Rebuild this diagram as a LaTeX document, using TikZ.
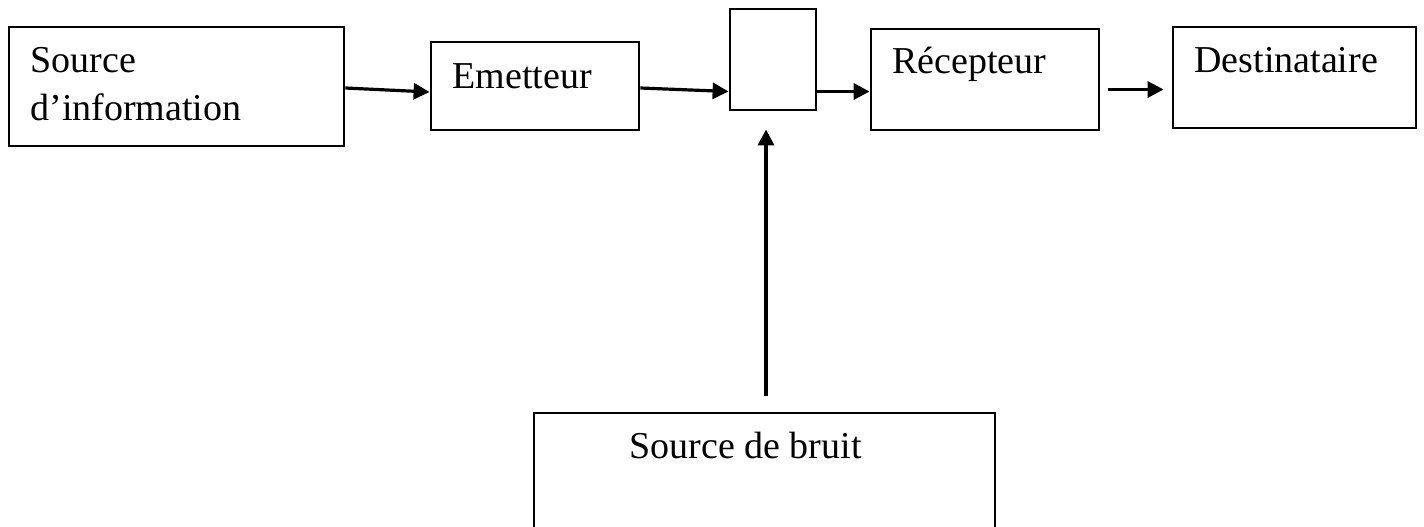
\documentclass[tikz,border=0pt]{standalone}
\usepackage{fontspec}
\setmainfont{Liberation Serif}
\usetikzlibrary{arrows.meta}

\tikzset{
  box/.style={draw, line width=1.4pt, inner sep=0pt},
  lbl/.style={anchor=base west, inner sep=0pt, align=left,
    font=\fontsize{19}{24}\selectfont},
  arr/.style={line width=1.6pt, -{Triangle[length=8pt,width=8pt]}}
}

\begin{document}
\begin{tikzpicture}[x=0.5pt,y=-0.5pt]
\useasboundingbox (0,0) rectangle (1424,526);
\clip (0,0) rectangle (1424,526);
% boxes
\node[box, minimum width=167.5pt, minimum height=59.5pt] (src) at (176.5,86.5) {};
\node[box, minimum width=104pt, minimum height=44pt] (emi) at (535,86) {};
\node[box, minimum width=43pt, minimum height=50.5pt] (chan) at (773,59.5) {};
\node[box, minimum width=114pt, minimum height=50.5pt] (rec) at (985,79.5) {};
\node[box, minimum width=121.5pt, minimum height=50.5pt] (dest) at (1294.5,77.5) {};
\node[box, minimum width=230.5pt, minimum height=73.5pt] (noise) at (764.5,486.5) {};
% texts (base = last line)
\node[lbl] (t-src) at (30,120) {Source\\d’information};
\node[lbl] (t-emi) at (452,88) {Emetteur};
\node[lbl] (t-rec) at (892,73) {Récepteur};
\node[lbl] (t-dest) at (1194,72) {Destinataire};
\node[lbl] (t-noise) at (629,458) {Source de bruit};
% links
\draw[arr] ([yshift=-0.75pt]src.east) -- ([yshift=-3pt]emi.west);
\draw[arr] ([yshift=-1pt]emi.east) -- ([yshift=-16pt]chan.west);
\draw[arr] ([yshift=-16pt]chan.east) -- ([yshift=-6pt]rec.west);
\draw[arr] ([shift={(4pt,-5pt)}]rec.east) -- ([shift={(-4pt,-6pt)}]dest.west);
\draw[arr] ([shift={(0.75pt,8pt)}]noise.north) -- ([shift={(-3.5pt,-9pt)}]chan.south);
\end{tikzpicture}
\end{document}
